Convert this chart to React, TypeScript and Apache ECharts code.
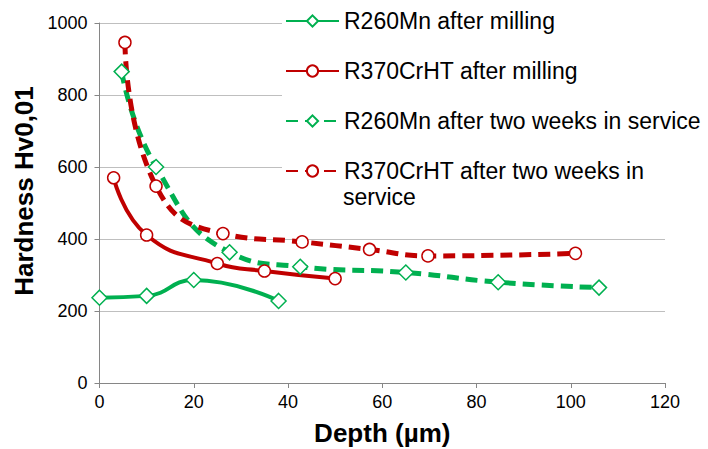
import React, { useEffect, useRef } from "react";
import * as echarts from "echarts";

const seriesNames = [
  "R260Mn after milling",
  "R370CrHT after milling",
  "R260Mn after two weeks in service",
  "R370CrHT after two weeks in service",
];

const depthA = [0, 10, 20, 38];
const hardA = [237, 242, 286, 228];

const depthB = [3, 10, 25, 35, 50];
const hardB = [570, 411, 332, 311, 290];

const depthC = [4.7, 12, 27.6, 42.6, 65, 84.6, 106];
const hardC = [865, 600, 363, 323, 307, 280, 265];

const depthD = [5.4, 12, 26.2, 43, 57.3, 69.7, 101];
const hardD = [946, 547, 415, 392, 371, 353, 360];

const xTicks = [0, 20, 40, 60, 80, 100, 120];
const yTicks = [0, 200, 400, 600, 800, 1000];

const GREEN = "#00B050";
const RED = "#C00000";
const FONT = "'Liberation Sans', Arial, sans-serif";

function pairs(xs: number[], ys: number[]) {
  return xs.map((x, i) => [x, ys[i]]);
}

export default function App() {
  const ref = useRef<HTMLDivElement>(null);
  useEffect(() => {
    if (!ref.current) return;
    const chart = echarts.init(ref.current, undefined, { renderer: "svg" });
    const mk = (
      name: string,
      data: number[][],
      color: string,
      dashed: boolean,
      symbol: string,
      size: number
    ) => ({
      name,
      type: "line",
      data,
      smooth: 0.5,
      symbol,
      symbolSize: size,
      showAllSymbol: true,
      z: 3,
      lineStyle: {
        color,
        width: dashed ? 5 : 4,
        type: dashed ? [12, 7] : "solid",
        cap: "butt",
      },
      itemStyle: { color: "#ffffff", borderColor: color, borderWidth: 1.5 },
      emphasis: { disabled: true },
    });
    chart.setOption({
      animation: false,
      textStyle: { fontFamily: FONT },
      grid: {
        left: 99.5,
        right: 43,
        top: 23,
        bottom: 66,
        containLabel: false,
        outerBoundsMode: "none",
      },
      xAxis: {
        type: "value",
        min: xTicks[0],
        max: xTicks[xTicks.length - 1],
        interval: 20,
        name: "Depth (µm)",
        nameLocation: "middle",
        nameGap: 37,
        nameTextStyle: { fontSize: 26, fontWeight: "bold", color: "#000", fontFamily: FONT },
        axisLine: { show: true, lineStyle: { color: "#868686", width: 1 } },
        axisTick: { show: true, length: 5, lineStyle: { color: "#868686" } },
        axisLabel: {
          fontSize: 18,
          color: "#000",
          margin: 10,
          fontFamily: FONT,
          formatter: (v: number) => String(v),
        },
        splitLine: { show: false },
      },
      yAxis: {
        type: "value",
        min: yTicks[0],
        max: yTicks[yTicks.length - 1],
        interval: 200,
        name: "Hardness Hv0,01",
        nameLocation: "middle",
        nameGap: 62,
        nameRotate: 90,
        nameTextStyle: {
          fontSize: 26,
          fontWeight: "bold",
          color: "#000",
          fontFamily: FONT,
          padding: [0, 0, 0, 24],
        },
        axisLine: { show: true, lineStyle: { color: "#868686", width: 1 } },
        axisTick: { show: true, length: 5, lineStyle: { color: "#868686" } },
        axisLabel: {
          fontSize: 18,
          color: "#000",
          margin: 12,
          fontFamily: FONT,
          formatter: (v: number) => String(v),
        },
        splitLine: { show: true, lineStyle: { color: "#bfbfbf", width: 1 } },
      },
      legend: {
        orient: "vertical",
        left: 282,
        top: 1,
        padding: [8, 40, 8, 3],
        backgroundColor: "#ffffff",
        itemWidth: 53,
        itemHeight: 14,
        itemGap: 26,
        z: 10,
        data: seriesNames,
        formatter: (n: string) =>
          n === seriesNames[3] ? "R370CrHT after two weeks in" : n,
        textStyle: { fontSize: 23, color: "#000", lineHeight: 24, fontFamily: FONT, padding: [0, 0, 0, 0] },
      },
      graphic: [
        {
          type: "text",
          left: 343,
          top: 185,
          z: 20,
          style: { text: "service", font: `23px ${FONT}`, fill: "#000" },
        },
      ],
      series: [
        mk(seriesNames[0], pairs(depthA, hardA), GREEN, false, "diamond", 15),
        mk(seriesNames[1], pairs(depthB, hardB), RED, false, "circle", 12),
        mk(seriesNames[2], pairs(depthC, hardC), GREEN, true, "diamond", 15),
        mk(seriesNames[3], pairs(depthD, hardD), RED, true, "circle", 12),
      ],
    });
    return () => chart.dispose();
  }, []);
  return <div ref={ref} style={{ width: 708, height: 449, position: "absolute", left: 0, top: 0 }} />;
}
